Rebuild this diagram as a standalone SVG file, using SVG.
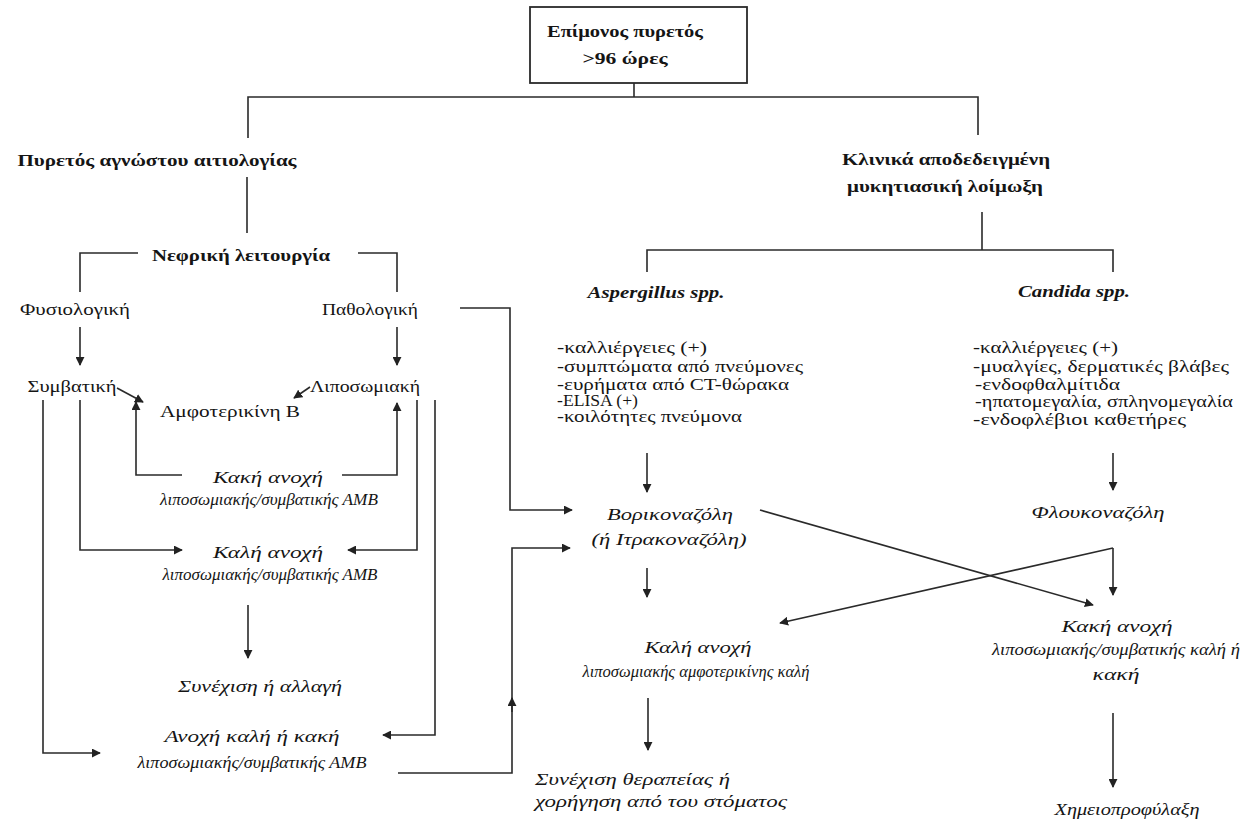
<svg xmlns="http://www.w3.org/2000/svg" width="1246" height="824" viewBox="0 0 1246 824">
<style>
text{font-family:"Liberation Serif","Times New Roman",serif;font-size:16px;fill:#151515}
.b{font-weight:bold}
.i{font-style:italic}
.bi{font-weight:bold;font-style:italic}
.c{text-anchor:middle}
.ln{fill:none;stroke:#2a2a2a;stroke-width:1.6}
.box{fill:#fff;stroke:#2a2a2a;stroke-width:1.8}
</style>
<defs>
<marker id="ah" viewBox="0 0 10 10" refX="9" refY="5" markerWidth="9" markerHeight="9" orient="auto" markerUnits="userSpaceOnUse">
<path d="M0,0 L10,5 L0,10 Z" fill="#222"/>
</marker>
</defs>
<rect width="1246" height="824" fill="#fff"/>

<g id="connectors">
<polyline class="ln" points="634,83 634,97"/>
<polyline class="ln" points="248,138 248,97 978,97 978,135"/>
<polyline class="ln" points="247,177 247,233"/>
<polyline class="ln" points="80,292 80,253 138,253"/>
<polyline class="ln" points="358,253 397,253 397,292"/>
<line class="ln" x1="80" y1="327" x2="80" y2="365" marker-end="url(#ah)"/>
<line class="ln" x1="397" y1="327" x2="397" y2="365" marker-end="url(#ah)"/>
<line class="ln" x1="117" y1="388" x2="143" y2="402" marker-end="url(#ah)"/>
<line class="ln" x1="310" y1="387" x2="294" y2="398" marker-end="url(#ah)"/>
<polyline class="ln" points="43,400 43,753 100,753" marker-end="url(#ah)"/>
<polyline class="ln" points="80,400 80,550 182,550" marker-end="url(#ah)"/>
<polyline class="ln" points="182,475 136,475 136,402" marker-end="url(#ah)"/>
<polyline class="ln" points="342,475 397,475 397,403" marker-end="url(#ah)"/>
<polyline class="ln" points="417,400 417,550 348,550" marker-end="url(#ah)"/>
<polyline class="ln" points="435,400 435,735 383,735" marker-end="url(#ah)"/>
<line class="ln" x1="248" y1="605" x2="248" y2="658" marker-end="url(#ah)"/>
<polyline class="ln" points="460,308 510,308 510,510 572,510" marker-end="url(#ah)"/>
<polyline class="ln" points="398,773 512,773 512,548 570,548" marker-end="url(#ah)"/>
<line class="ln" x1="512" y1="712" x2="512" y2="698" marker-end="url(#ah)"/>
<polyline class="ln" points="982,212 982,250"/>
<polyline class="ln" points="647,272 647,250 1113,250 1113,272"/>
<line class="ln" x1="647" y1="453" x2="647" y2="492" marker-end="url(#ah)"/>
<line class="ln" x1="1113" y1="453" x2="1113" y2="490" marker-end="url(#ah)"/>
<line class="ln" x1="647" y1="568" x2="647" y2="597" marker-end="url(#ah)"/>
<line class="ln" x1="760" y1="510" x2="1093" y2="605" marker-end="url(#ah)"/>
<line class="ln" x1="1113" y1="548" x2="1113" y2="595" marker-end="url(#ah)"/>
<line class="ln" x1="1113" y1="548" x2="780" y2="623" marker-end="url(#ah)"/>
<line class="ln" x1="648" y1="698" x2="648" y2="750" marker-end="url(#ah)"/>
<line class="ln" x1="1113" y1="713" x2="1113" y2="787" marker-end="url(#ah)"/>
</g>

<g id="n-top">
<rect class="box" x="530" y="7" width="217" height="76"/>
<text class="b c" x="625" y="37" textLength="156" lengthAdjust="spacingAndGlyphs">Επίμονος πυρετός</text>
<text class="b c" x="625" y="64" textLength="85" lengthAdjust="spacingAndGlyphs">&gt;96 ώρες</text>
</g>
<g id="n-fuo">
<text class="b c" x="157" y="166" textLength="279" lengthAdjust="spacingAndGlyphs">Πυρετός αγνώστου αιτιολογίας</text>
</g>
<g id="n-proven">
<text class="b c" x="946" y="165" textLength="208" lengthAdjust="spacingAndGlyphs">Κλινικά αποδεδειγμένη</text>
<text class="b c" x="945" y="192" textLength="196" lengthAdjust="spacingAndGlyphs">μυκητιασική λοίμωξη</text>
</g>
<g id="n-renal">
<text class="b c" x="241" y="261" textLength="178" lengthAdjust="spacingAndGlyphs">Νεφρική λειτουργία</text>
</g>
<g id="n-normal">
<text class="c" x="75" y="315" textLength="110" lengthAdjust="spacingAndGlyphs">Φυσιολογική</text>
</g>
<g id="n-abnormal">
<text class="c" x="370" y="315" textLength="96" lengthAdjust="spacingAndGlyphs">Παθολογική</text>
</g>
<g id="n-conv">
<text class="c" x="72" y="392" textLength="89" lengthAdjust="spacingAndGlyphs">Συμβατική</text>
</g>
<g id="n-lipo">
<text class="c" x="365" y="392" textLength="110" lengthAdjust="spacingAndGlyphs">Λιποσωμιακή</text>
</g>
<g id="n-amb">
<text class="c" x="230" y="417" textLength="140" lengthAdjust="spacingAndGlyphs">Αμφοτερικίνη Β</text>
</g>
<g id="n-poor">
<text class="i c" x="268" y="483" textLength="110" lengthAdjust="spacingAndGlyphs">Κακή ανοχή</text>
<text class="i c" x="269" y="505" textLength="218" lengthAdjust="spacingAndGlyphs">λιποσωμιακής/συμβατικής ΑΜΒ</text>
</g>
<g id="n-good">
<text class="i c" x="268" y="558" textLength="110" lengthAdjust="spacingAndGlyphs">Καλή ανοχή</text>
<text class="i c" x="270" y="580" textLength="215" lengthAdjust="spacingAndGlyphs">λιποσωμιακής/συμβατικής ΑΜΒ</text>
</g>
<g id="n-cont">
<text class="i c" x="260" y="692" textLength="164" lengthAdjust="spacingAndGlyphs">Συνέχιση ή αλλαγή</text>
</g>
<g id="n-tol">
<text class="i c" x="252" y="742" textLength="175" lengthAdjust="spacingAndGlyphs">Ανοχή καλή ή κακή</text>
<text class="i c" x="252" y="768" textLength="229" lengthAdjust="spacingAndGlyphs">λιποσωμιακής/συμβατικής ΑΜΒ</text>
</g>
<g id="n-asp">
<text class="bi c" x="656" y="298" textLength="137" lengthAdjust="spacingAndGlyphs">Aspergillus spp.</text>
<text x="557" y="353" textLength="150" lengthAdjust="spacingAndGlyphs">-καλλιέργειες (+)</text>
<text x="557" y="372" textLength="246" lengthAdjust="spacingAndGlyphs">-συμπτώματα από πνεύμονες</text>
<text x="557" y="390" textLength="232" lengthAdjust="spacingAndGlyphs">-ευρήματα από CT-θώρακα</text>
<text x="557" y="406" textLength="81" lengthAdjust="spacingAndGlyphs">-ELISA (+)</text>
<text x="557" y="422" textLength="185" lengthAdjust="spacingAndGlyphs">-κοιλότητες πνεύμονα</text>
</g>
<g id="n-cand">
<text class="bi c" x="1074" y="297" textLength="112" lengthAdjust="spacingAndGlyphs">Candida spp.</text>
<text x="973" y="353" textLength="145" lengthAdjust="spacingAndGlyphs">-καλλιέργειες (+)</text>
<text x="973" y="372" textLength="256" lengthAdjust="spacingAndGlyphs">-μυαλγίες, δερματικές βλάβες</text>
<text x="975" y="390" textLength="145" lengthAdjust="spacingAndGlyphs">-ενδοφθαλμίτιδα</text>
<text x="975" y="407" textLength="258" lengthAdjust="spacingAndGlyphs">-ηπατομεγαλία, σπληνομεγαλία</text>
<text x="973" y="425" textLength="213" lengthAdjust="spacingAndGlyphs">-ενδοφλέβιοι καθετήρες</text>
</g>
<g id="n-vori">
<text class="i c" x="670" y="520" textLength="126" lengthAdjust="spacingAndGlyphs">Βορικοναζόλη</text>
<text class="i c" x="669" y="545" textLength="155" lengthAdjust="spacingAndGlyphs">(ή Ιτρακοναζόλη)</text>
</g>
<g id="n-fluc">
<text class="i c" x="1098" y="518" textLength="133" lengthAdjust="spacingAndGlyphs">Φλουκοναζόλη</text>
</g>
<g id="n-good2">
<text class="i c" x="698" y="653" textLength="107" lengthAdjust="spacingAndGlyphs">Καλή ανοχή</text>
<text class="i c" x="696" y="677" textLength="227" lengthAdjust="spacingAndGlyphs">λιποσωμιακής αμφοτερικίνης καλή</text>
</g>
<g id="n-poor2">
<text class="i c" x="1117" y="632" textLength="111" lengthAdjust="spacingAndGlyphs">Κακή ανοχή</text>
<text class="i c" x="1116" y="655" textLength="248" lengthAdjust="spacingAndGlyphs">λιποσωμιακής/συμβατικής καλή ή</text>
<text class="i c" x="1116" y="680" textLength="47" lengthAdjust="spacingAndGlyphs">κακή</text>
</g>
<g id="n-oral">
<text class="i" x="535" y="785" textLength="195" lengthAdjust="spacingAndGlyphs">Συνέχιση θεραπείας ή</text>
<text class="i" x="535" y="807" textLength="252" lengthAdjust="spacingAndGlyphs">χορήγηση από του στόματος</text>
</g>
<g id="n-proph">
<text class="i c" x="1127" y="815" textLength="145" lengthAdjust="spacingAndGlyphs">Χημειοπροφύλαξη</text>
</g>
</svg>
